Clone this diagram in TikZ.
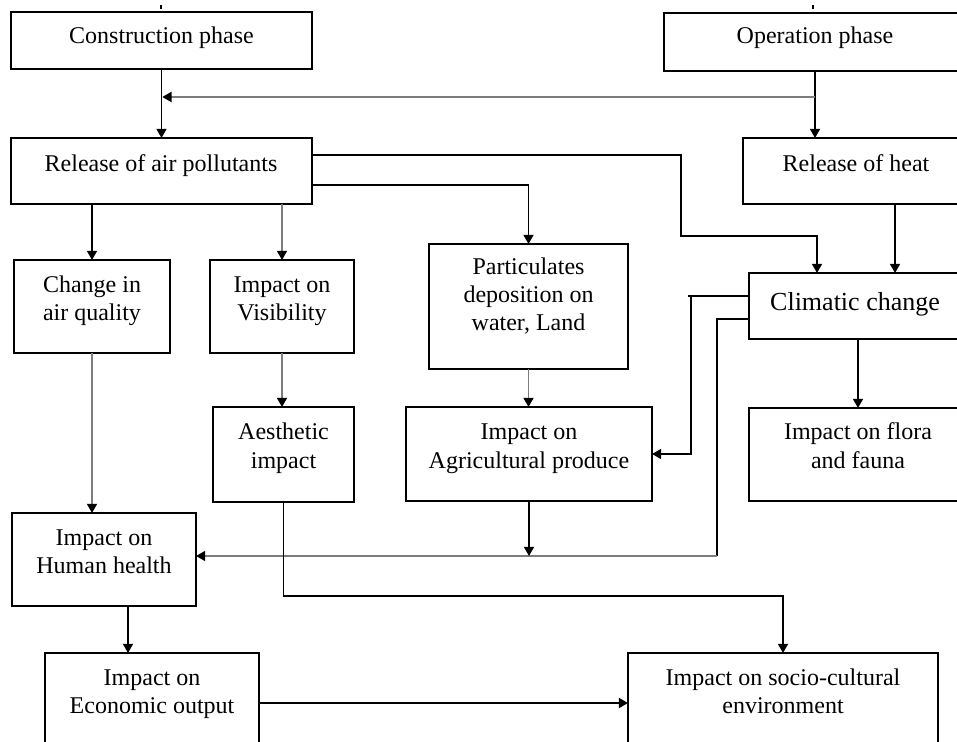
\documentclass[tikz,border=0pt]{standalone}
\usepackage{fontspec}
\setmainfont{Liberation Serif}
\usetikzlibrary{arrows.meta}

\definecolor{linegray}{RGB}{125,125,125}

\tikzset{
  box/.style={draw, line width=1pt, rectangle, inner sep=0pt, outer sep=0pt},
  txt/.style={inner sep=0pt, outer sep=0pt, align=center, anchor=base,
              font=\fontsize{12}{14}\selectfont},
  link/.style={line width=0.9pt, draw=black},
  arr/.style={link, -{Triangle[length=4.6pt,width=5pt,color=black]}},
  pale/.style={draw=linegray},
}

% \rbox{name}{left}{top}{right}{bottom}
\newcommand\rbox[5]{%
  \node[box, minimum width={(#4-#2)*0.5pt}, minimum height={(#5-#3)*0.5pt}]
    (#1) at ({(#2+#4)/2},{(#3+#5)/2}) {};}

\begin{document}
\begin{tikzpicture}[x=0.5pt, y=-0.5pt]
  \clip (0,0) rectangle (957,742);
  \fill[white] (0,0) rectangle (957,742);

  % boxes
  \rbox{cp}{11}{12}{312}{69}
  \rbox{op}{664}{13}{966}{71}
  \rbox{rap}{11}{138}{312}{204}
  \rbox{rh}{743}{138}{969}{204}
  \rbox{caq}{14}{260}{170}{353}
  \rbox{iv}{210}{260}{354}{353}
  \rbox{pd}{429}{244}{628}{369}
  \rbox{cc}{749}{273}{961}{339}
  \rbox{ae}{213}{407}{354}{502}
  \rbox{ia}{406}{407}{652}{501}
  \rbox{ff}{749}{408}{967}{501}
  \rbox{hh}{12}{513}{196}{606}
  \rbox{eo}{45}{653}{259}{770}
  \rbox{sc}{628}{653}{938}{770}

  % labels (anchored at the baseline of their last line)
  \node[txt] (cp-t)  at (161.5,44) {Construction phase};
  \node[txt] (op-t)  at (815,44)   {Operation phase};
  \node[txt] (rap-t) at (161,172)  {Release of air pollutants};
  \node[txt] (rh-t)  at (856,172)  {Release of heat};
  \node[txt] (caq-t) at (92,321)   {Change in\\air quality};
  \node[txt] (iv-t)  at (282,321)  {Impact on\\Visibility};
  \node[txt] (pd-t)  at (528.5,331) {Particulates\\deposition on\\water, Land};
  \node[txt, font=\fontsize{13}{15}\selectfont] (cc-t) at (855,311) {Climatic change};
  \node[txt] (ae-t)  at (283.5,468) {Aesthetic\\impact};
  \node[txt] (ia-t)  at (529,468)  {Impact on\\Agricultural produce};
  \node[txt] (ff-t)  at (858,468)  {Impact on flora\\and fauna};
  \node[txt] (hh-t)  at (104,573)  {Impact on\\Human health};
  \node[txt] (eo-t)  at (152,713)  {Impact on\\Economic output};
  \node[txt] (sc-t)  at (783,713)  {Impact on socio-cultural\\environment};

  % routing points
  \coordinate (y97)  at (0,97);
  \coordinate (y155) at (0,155);
  \coordinate (y185) at (0,185);
  \coordinate (y236) at (0,236);
  \coordinate (y296) at (0,296);
  \coordinate (y319) at (0,319);
  \coordinate (y556) at (0,556);
  \coordinate (y596) at (0,596);
  \coordinate (y703) at (0,703);
  \coordinate (x128) at (128,0);
  \coordinate (x681) at (681,0);
  \coordinate (x688) at (688,0);
  \coordinate (x691) at (691,0);
  \coordinate (x717) at (717,0);
  \coordinate (x817) at (817,0);
  \coordinate (x895) at (895,0);

  % small marks above the two phase boxes
  \draw[link] (161,5) -- (161,9);
  \draw[link] (813,5) -- (813,9);

  % phases
  \draw[arr] (cp.south) -- (rap.north);
  \draw[arr] (op.south) -- (op.south |- rh.north);
  \draw[arr, pale] (op.south |- y97) -- ([xshift=0.4pt]cp.south |- y97);

  % release of air pollutants
  \draw[arr] (rap.east |- y155) -- (x681 |- y155) -- (x681 |- y236)
             -- (x817 |- y236) -- (x817 |- cc.north);
  \draw[arr] (rap.east |- y185) -| (pd.north);
  \draw[arr] (caq.north |- rap.south) -- (caq.north);
  \draw[arr, pale] (iv.north |- rap.south) -- (iv.north);

  % release of heat and climatic change
  \draw[arr] (x895 |- rh.south) -- (x895 |- cc.north);
  \draw[arr] (ff.north |- cc.south) -- (ff.north);
  \draw[link] (x691 |- y296) -- (x688 |- y296);
  \draw[arr] (cc.west |- y296) -- (x691 |- y296) -- (x691 |- ia.east) -- (ia.east);
  \draw[link] (cc.west |- y319) -- (x717 |- y319) -- (x717 |- y556);
  \draw[arr, pale] (x717 |- y556) -- (hh.east |- y556);

  % middle rows
  \draw[arr, pale] (pd.south) -- (pd.south |- ia.north);
  \draw[arr] (ia.south) -- (ia.south |- y556);
  \draw[arr, pale] (iv.south) -- (iv.south |- ae.north);
  \draw[arr, pale] (caq.south) -- (caq.south |- hh.north);
  \draw[arr] (ae.south) -- (ae.south |- y596) -- (sc.north |- y596) -- (sc.north);

  % bottom row
  \draw[arr] (x128 |- hh.south) -- (x128 |- eo.north);
  \draw[arr, line width=1.1pt] (eo.east |- y703) -- (sc.west |- y703);
\end{tikzpicture}
\end{document}
